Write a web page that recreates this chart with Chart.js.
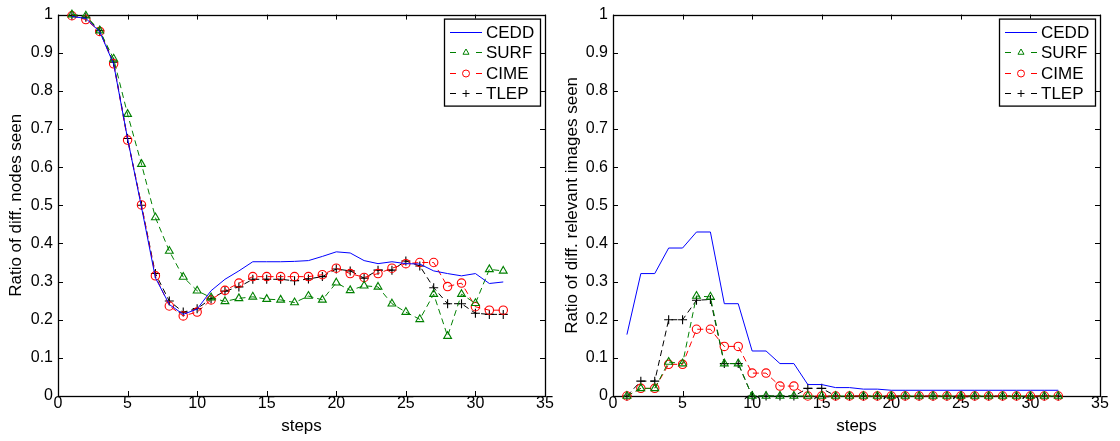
<!DOCTYPE html>
<html>
<head>
<meta charset="utf-8">
<script src="https://cdn.jsdelivr.net/npm/chart.js@4.4.1/dist/chart.umd.min.js"></script>
<style>
	html, body { margin: 0; padding: 0; background: #fff; }
	#wrap { position: relative; width: 1120px; height: 441px; }
	.panel { position: absolute; top: 0; width: 560px; height: 441px; }
	#left { left: 0; }
	#right { left: 560px; }
</style>
</head>
<body>
<div id="wrap">
	<div class="panel" id="left"><canvas id="nodes"></canvas></div>
	<div class="panel" id="right"><canvas id="images"></canvas></div>
</div>
<script>
const steps = [1, 2, 3, 4, 5, 6, 7, 8, 9, 10, 11, 12, 13, 14, 15, 16,
	17, 18, 19, 20, 21, 22, 23, 24, 25, 26, 27, 28, 29, 30, 31, 32]
const methods = ['CEDD', 'SURF', 'CIME', 'TLEP']
const xTicks = [0, 5, 10, 15, 20, 25, 30, 35]
const yTicks = [0, 0.1, 0.2, 0.3, 0.4, 0.5, 0.6, 0.7, 0.8, 0.9, 1]

// ratio of different nodes seen
const nodesCedd = [0.995, 0.99, 0.955, 0.87, 0.675, 0.495, 0.31, 0.24, 0.214, 0.228, 0.276, 0.306,
	0.328, 0.352, 0.352, 0.352, 0.353, 0.355, 0.366, 0.378, 0.375, 0.355, 0.347, 0.352,
	0.347, 0.346, 0.328, 0.321, 0.315, 0.321, 0.295, 0.299]
const nodesSurf = [1.0, 0.997, 0.958, 0.884, 0.739, 0.608, 0.468, 0.38, 0.312, 0.276, 0.258, 0.248,
	0.256, 0.26, 0.254, 0.252, 0.245, 0.262, 0.252, 0.297, 0.277, 0.289, 0.286, 0.242,
	0.22, 0.201, 0.267, 0.157, 0.267, 0.243, 0.332, 0.328]
const nodesCime = [0.997, 0.987, 0.956, 0.871, 0.671, 0.501, 0.315, 0.236, 0.21, 0.22, 0.252, 0.277,
	0.296, 0.313, 0.313, 0.313, 0.313, 0.313, 0.318, 0.335, 0.321, 0.311, 0.321, 0.335,
	0.347, 0.35, 0.35, 0.287, 0.296, 0.234, 0.225, 0.225]
const nodesTlep = [0.998, 0.993, 0.958, 0.875, 0.675, 0.5, 0.321, 0.249, 0.22, 0.229, 0.255, 0.275,
	0.286, 0.306, 0.306, 0.306, 0.302, 0.307, 0.313, 0.333, 0.328, 0.309, 0.33, 0.33,
	0.354, 0.341, 0.284, 0.242, 0.242, 0.217, 0.214, 0.214]

// ratio of different relevant images seen
const imagesCedd = [0.161, 0.321, 0.321, 0.388, 0.388, 0.43, 0.43, 0.242, 0.242, 0.118, 0.118, 0.085,
	0.085, 0.03, 0.03, 0.022, 0.022, 0.018, 0.018, 0.015, 0.015, 0.015, 0.015, 0.015,
	0.015, 0.015, 0.015, 0.015, 0.015, 0.015, 0.015, 0.015]
const imagesSurf = [0, 0.02, 0.02, 0.089, 0.085, 0.262, 0.26, 0.085, 0.085, 0, 0, 0,
	0, 0, 0, 0, 0, 0, 0, 0, 0, 0, 0, 0,
	0, 0, 0, 0, 0, 0, 0, 0]
const imagesCime = [0, 0.02, 0.02, 0.083, 0.083, 0.175, 0.175, 0.13, 0.13, 0.06, 0.06, 0.026,
	0.026, 0, 0, 0, 0, 0, 0, 0, 0, 0, 0, 0,
	0, 0, 0, 0, 0, 0, 0, 0]
const imagesTlep = [0, 0.039, 0.039, 0.2, 0.2, 0.251, 0.253, 0.085, 0.085, 0, 0, 0,
	0, 0.02, 0.02, 0, 0, 0, 0, 0, 0, 0, 0, 0,
	0, 0, 0, 0, 0, 0, 0, 0]

Chart.defaults.font.family = '"Liberation Sans", Arial, sans-serif'
Chart.defaults.font.size = 16
Chart.defaults.color = '#000'

const styles = [
	{ color: 'rgb(0, 0, 255)', dash: [], point: false },
	{ color: 'rgb(0, 128, 0)', dash: [6, 4], point: 'triangle', radius: 4.5 },
	{ color: 'rgb(255, 0, 0)', dash: [6, 4], point: 'circle', radius: 4.2 },
	{ color: 'rgb(0, 0, 0)', dash: [6, 4], point: 'cross', radius: 4.5 },
]

const toPoints = (values) => values.map((v, i) => ({ x: steps[i], y: v }))

const makeDatasets = (series) =>
	series.map((values, i) => {
		const s = styles[i]
		return {
			label: methods[i],
			data: toPoints(values),
			borderColor: s.color,
			borderWidth: 1,
			borderDash: s.dash,
			pointStyle: s.point,
			pointRadius: s.point ? s.radius : 0,
			pointBorderColor: s.color,
			pointBackgroundColor: 'rgba(0,0,0,0)',
			pointBorderWidth: 1.1,
			tension: 0,
			clip: false,
		}
	})

// box around the axes with inward tick marks on all four sides
const boxPlugin = {
	id: 'box',
	beforeDatasetsDraw(chart) {
		const { ctx, chartArea: a, scales: { x, y } } = chart
		const len = 5
		ctx.save()
		ctx.strokeStyle = '#000'
		ctx.lineWidth = 1
		ctx.beginPath()
		xTicks.forEach((t) => {
			const px = Math.round(x.getPixelForValue(t)) + 0.5
			ctx.moveTo(px, a.bottom)
			ctx.lineTo(px, a.bottom - len)
			ctx.moveTo(px, a.top)
			ctx.lineTo(px, a.top + len)
		})
		yTicks.forEach((t) => {
			const py = Math.round(y.getPixelForValue(t)) + 0.5
			ctx.moveTo(a.left, py)
			ctx.lineTo(a.left + len, py)
			ctx.moveTo(a.right, py)
			ctx.lineTo(a.right - len, py)
		})
		ctx.stroke()
		ctx.lineWidth = 1.3
		ctx.strokeRect(Math.round(a.left) + 0.5, Math.round(a.top) + 0.5,
			Math.round(a.right - a.left), Math.round(a.bottom - a.top))
		ctx.restore()
	},
}

// boxed legend in the upper right corner: line sample, marker, label
const legendPlugin = {
	id: 'boxLegend',
	afterDraw(chart) {
		const { ctx, chartArea: a } = chart
		const w = 96
		const h = 87
		const left = a.right - 5 - w
		const top = a.top + 4
		ctx.save()
		ctx.fillStyle = '#fff'
		ctx.fillRect(left, top, w, h)
		ctx.strokeStyle = '#000'
		ctx.lineWidth = 1.3
		ctx.strokeRect(left + 0.5, top + 0.5, w, h)
		ctx.font = '17px "Liberation Sans", Arial, sans-serif'
		ctx.textBaseline = 'middle'
		chart.data.datasets.forEach((ds, i) => {
			const s = styles[i]
			const cy = Math.round(top + 13.5 + i * 20.3) + 0.5
			const x0 = left + 6
			const x1 = left + 38
			ctx.strokeStyle = s.color
			ctx.lineWidth = 1
			ctx.beginPath()
			if (s.point) {
				ctx.moveTo(x0, cy)
				ctx.lineTo(x0 + 6, cy)
				ctx.moveTo(x1 - 6, cy)
				ctx.lineTo(x1, cy)
			} else {
				ctx.moveTo(x0, cy)
				ctx.lineTo(x1, cy)
			}
			ctx.stroke()
			if (s.point) {
				ctx.fillStyle = 'rgba(0,0,0,0)'
				Chart.helpers.drawPoint(ctx, {
					pointStyle: s.point,
					radius: 3.5,
					rotation: 0,
					borderWidth: 1,
				}, (x0 + x1) / 2, cy)
			}
			ctx.fillStyle = '#000'
			ctx.fillText(ds.label, x1 + 4, cy + 1)
		})
		ctx.restore()
	},
}

const tickLabel = (value) => `${Number(value.toFixed(2))}`

const makeChart = (canvasId, series, yTitle, axisWidth, padRight, yTitlePad) => {
	const context = document.getElementById(canvasId).getContext('2d')
	return new Chart(context, {
		type: 'line',
		data: { datasets: makeDatasets(series) },
		options: {
			responsive: true,
			maintainAspectRatio: false,
			animation: false,
			events: [],
			layout: { padding: { top: 13, right: padRight, bottom: 0, left: 0 } },
			plugins: { legend: { display: false }, tooltip: { enabled: false } },
			scales: {
				x: {
					type: 'linear',
					min: 0,
					max: 35,
					afterBuildTicks: (scale) => {
						scale.ticks = xTicks.map((v) => ({ value: v }))
					},
					ticks: { padding: -2, maxRotation: 0, autoSkip: false, callback: tickLabel },
					grid: { display: false, drawTicks: false },
					border: { display: false },
					title: { display: true, text: 'steps', font: { size: 17 }, padding: { top: 0, bottom: 4 } },
					afterFit: (scale) => { scale.height = 45 },
				},
				y: {
					min: 0,
					max: 1,
					afterBuildTicks: (scale) => {
						scale.ticks = yTicks.map((v) => ({ value: v }))
					},
					ticks: { padding: 5, autoSkip: false, callback: tickLabel },
					grid: { display: false, drawTicks: false },
					border: { display: false },
					title: { display: true, text: yTitle, font: { size: 17 }, padding: { top: yTitlePad, bottom: 0 } },
					afterFit: (scale) => { scale.width = axisWidth },
				},
			},
		},
		plugins: [boxPlugin, legendPlugin],
	})
}

makeChart('nodes', [nodesCedd, nodesSurf, nodesCime, nodesTlep],
	'Ratio of diff. nodes seen', 58, 15, 6)
makeChart('images', [imagesCedd, imagesSurf, imagesCime, imagesTlep],
	'Ratio of diff. relevant images seen', 53, 20, 2)
</script>
</body>
</html>
